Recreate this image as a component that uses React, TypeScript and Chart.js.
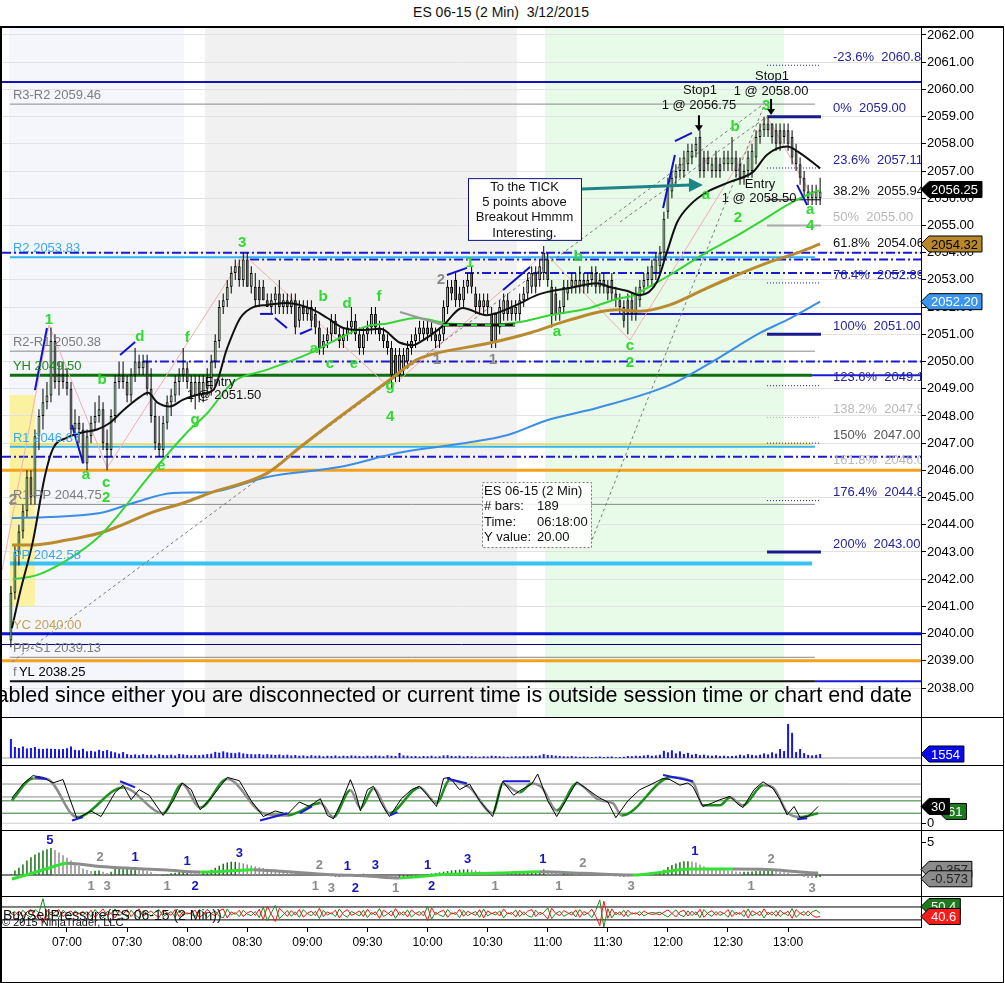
import React, { useEffect, useRef } from "react";
import { Chart, registerables } from "chart.js";

Chart.register(...registerables);

const FONT = "'Liberation Sans', Arial, Helvetica, sans-serif";
Chart.defaults.font.family = FONT;

// ================= DATA =================
const TITLE = "ES 06-15 (2 Min)  3/12/2015";
const BANNER = "abled since either you are disconnected or current time is outside session time or chart end date";

// time axis (minutes after midnight)
const FIRST_BAR_MINUTE = 392; // 06:32
const BAR_MINUTES = 2;
const X_MIN = 387.55;
const X_MAX = 846.36;
const timeTicks = [420, 450, 480, 510, 540, 570, 600, 630, 660, 690, 720, 750, 780];

// price axis
const Y_MIN = 2036.936;
const Y_MAX = 2062.294;
const priceTicks = [2038, 2039, 2040, 2041, 2042, 2043, 2044, 2045, 2046, 2047, 2048, 2049, 2050, 2051, 2052, 2053, 2054, 2055, 2056, 2057, 2058, 2059, 2060, 2061, 2062];

const opens = [
  2039.75, 2041.5, 2043.0, 2043.75, 2044.5, 2045.75, 2045.0, 2047.25, 2048.0, 2048.5,
  2048.75, 2050.75, 2049.25, 2049.5, 2049.25, 2049.0, 2047.5, 2047.75, 2047.5, 2046.25,
  2047.25, 2047.75, 2048.0, 2048.25, 2047.0, 2046.75, 2048.0, 2049.25, 2049.5, 2049.25,
  2048.75, 2049.5, 2050.0, 2049.75, 2050.0, 2049.0, 2048.0, 2047.0, 2046.75, 2047.75,
  2048.5, 2048.75, 2049.25, 2049.5, 2049.75, 2049.25, 2048.75, 2049.25, 2048.75, 2049.25,
  2049.0, 2050.0, 2050.75, 2052.0, 2052.25, 2052.75, 2053.25, 2053.5, 2053.0, 2053.75,
  2052.75, 2052.75, 2052.75, 2052.75, 2052.25, 2052.0, 2052.25, 2052.5, 2052.0, 2052.25,
  2052.0, 2052.25, 2051.5, 2052.0, 2051.75, 2052.0, 2051.75, 2051.25, 2050.5, 2050.75,
  2051.0, 2051.5, 2051.0, 2050.75, 2051.0, 2051.25, 2051.5, 2051.0, 2050.5, 2051.0,
  2051.25, 2051.75, 2051.25, 2051.0, 2050.75, 2050.5, 2050.25, 2049.5, 2049.75, 2050.0,
  2050.5, 2050.75, 2051.0, 2051.0, 2051.25, 2051.25, 2051.0, 2050.75, 2051.0, 2052.0,
  2052.75, 2053.0, 2052.5, 2052.25, 2052.75, 2053.25, 2052.5, 2052.25, 2052.0, 2052.25,
  2051.75, 2050.75, 2051.25, 2051.75, 2052.25, 2052.0, 2051.75, 2051.75, 2052.25, 2052.5,
  2052.75, 2053.25, 2053.0, 2053.25, 2053.75, 2052.75, 2052.5, 2051.75, 2052.0, 2052.5,
  2052.75, 2052.75, 2052.75, 2053.0, 2052.75, 2053.0, 2053.25, 2052.75, 2053.0, 2052.75,
  2053.0, 2052.5, 2052.25, 2052.0, 2052.25, 2052.25, 2051.75, 2052.25, 2052.75, 2053.0,
  2053.0, 2053.25, 2053.5, 2054.0, 2055.5, 2056.25, 2056.75, 2057.0, 2057.0, 2057.25,
  2057.5, 2057.75, 2058.25, 2057.5, 2057.5, 2057.0, 2057.5, 2057.25, 2057.25, 2057.25,
  2057.25, 2057.5, 2057.25, 2056.75, 2057.0, 2057.0, 2057.5, 2058.25, 2058.5, 2058.75,
  2058.75, 2058.5, 2058.5, 2058.5, 2058.5, 2058.25, 2057.75, 2057.25, 2056.75, 2056.0,
  2056.0, 2056.0, 2056.0,
];
const highs = [
  2041.75, 2043.25, 2044.0, 2044.75, 2046.0, 2046.0, 2047.5, 2048.25, 2049.0, 2049.25,
  2051.25, 2051.0, 2050.0, 2050.0, 2049.75, 2049.25, 2048.25, 2048.0, 2047.75, 2047.5,
  2048.0, 2048.5, 2048.75, 2048.5, 2047.5, 2048.25, 2049.5, 2050.0, 2050.0, 2049.5,
  2049.75, 2050.5, 2050.25, 2050.25, 2050.25, 2049.75, 2048.5, 2048.0, 2048.0, 2048.75,
  2049.0, 2049.5, 2049.75, 2050.5, 2050.0, 2049.5, 2049.5, 2049.5, 2049.5, 2049.75,
  2050.25, 2051.0, 2052.25, 2052.5, 2053.0, 2053.5, 2053.75, 2053.75, 2054.0, 2054.0,
  2053.5, 2053.25, 2053.0, 2053.0, 2052.5, 2052.5, 2052.75, 2053.0, 2052.5, 2052.5,
  2052.5, 2052.5, 2052.25, 2052.25, 2052.25, 2052.25, 2052.0, 2051.5, 2051.0, 2051.25,
  2051.75, 2051.75, 2051.25, 2051.25, 2051.5, 2052.0, 2051.75, 2051.25, 2051.25, 2051.5,
  2052.0, 2052.0, 2051.5, 2051.25, 2051.0, 2050.75, 2050.5, 2050.5, 2050.5, 2050.75,
  2051.0, 2051.25, 2051.5, 2051.5, 2051.5, 2051.5, 2051.25, 2051.25, 2052.25, 2053.0,
  2053.0, 2053.25, 2052.75, 2053.0, 2053.25, 2053.5, 2052.75, 2052.5, 2052.5, 2052.5,
  2052.0, 2051.75, 2052.25, 2052.5, 2052.5, 2052.25, 2052.25, 2052.5, 2052.75, 2053.25,
  2053.5, 2053.5, 2053.75, 2054.25, 2054.0, 2053.0, 2052.75, 2052.25, 2053.0, 2053.0,
  2053.25, 2053.25, 2053.5, 2053.25, 2053.25, 2053.5, 2053.5, 2053.25, 2053.25, 2053.0,
  2053.25, 2052.75, 2052.5, 2052.25, 2052.5, 2052.5, 2052.75, 2053.0, 2053.25, 2053.5,
  2053.75, 2054.0, 2054.25, 2055.5, 2056.75, 2057.0, 2057.25, 2057.5, 2057.75, 2058.0,
  2058.0, 2058.25, 2058.5, 2057.75, 2057.75, 2057.5, 2057.75, 2057.5, 2057.75, 2057.75,
  2058.25, 2057.75, 2057.5, 2057.25, 2057.75, 2058.0, 2058.5, 2058.75, 2059.0, 2059.0,
  2058.75, 2058.75, 2058.75, 2058.75, 2058.75, 2058.5, 2058.0, 2057.5, 2057.0, 2056.5,
  2056.5, 2056.5, 2056.75,
];
const lows = [
  2039.5, 2041.25, 2042.5, 2043.5, 2044.25, 2044.75, 2044.75, 2046.75, 2047.5, 2048.25,
  2048.5, 2049.0, 2048.75, 2049.0, 2048.75, 2047.25, 2047.25, 2047.0, 2046.25, 2046.0,
  2047.0, 2047.5, 2047.75, 2046.75, 2046.0, 2046.5, 2047.75, 2049.0, 2049.0, 2048.5,
  2048.5, 2049.25, 2049.5, 2049.5, 2048.75, 2047.75, 2046.75, 2046.5, 2046.5, 2047.5,
  2048.0, 2048.5, 2048.75, 2049.25, 2049.0, 2048.5, 2048.25, 2048.5, 2048.5, 2048.75,
  2048.75, 2049.75, 2050.5, 2051.75, 2052.0, 2052.5, 2053.0, 2052.75, 2052.75, 2052.75,
  2052.5, 2052.0, 2052.0, 2052.25, 2052.0, 2051.75, 2051.75, 2051.75, 2051.75, 2051.75,
  2051.75, 2051.0, 2051.25, 2051.5, 2051.5, 2051.25, 2051.0, 2050.25, 2050.25, 2050.5,
  2050.75, 2051.0, 2050.5, 2050.5, 2050.75, 2051.0, 2050.75, 2050.25, 2050.25, 2050.75,
  2051.0, 2051.0, 2050.75, 2050.5, 2050.25, 2049.0, 2049.25, 2049.25, 2049.5, 2049.75,
  2050.25, 2050.5, 2050.75, 2050.75, 2050.75, 2050.75, 2050.5, 2050.5, 2050.75, 2051.75,
  2052.25, 2052.0, 2052.0, 2052.0, 2052.5, 2052.5, 2051.75, 2051.75, 2051.75, 2051.75,
  2050.5, 2050.5, 2051.0, 2051.5, 2051.5, 2051.5, 2051.5, 2051.5, 2052.0, 2052.25,
  2052.5, 2052.5, 2052.75, 2053.0, 2052.75, 2051.25, 2051.5, 2051.5, 2051.75, 2052.25,
  2052.5, 2052.5, 2052.5, 2052.5, 2052.5, 2052.75, 2052.5, 2052.5, 2052.5, 2052.25,
  2052.25, 2052.0, 2051.75, 2051.25, 2051.0, 2051.5, 2051.5, 2052.0, 2052.5, 2052.75,
  2052.75, 2053.0, 2053.25, 2053.75, 2055.25, 2056.0, 2056.5, 2056.75, 2056.75, 2057.0,
  2057.25, 2057.5, 2056.75, 2056.75, 2057.0, 2056.75, 2056.75, 2056.75, 2057.0, 2057.0,
  2057.0, 2056.75, 2056.5, 2056.5, 2056.75, 2056.75, 2057.25, 2058.0, 2058.25, 2058.25,
  2058.0, 2057.75, 2057.75, 2058.0, 2057.75, 2057.25, 2057.0, 2056.5, 2056.0, 2055.75,
  2055.75, 2055.75, 2055.75,
];
const closes = [
  2041.5, 2043.0, 2043.75, 2044.5, 2045.75, 2045.0, 2047.25, 2048.0, 2048.5, 2048.75,
  2050.75, 2049.25, 2049.5, 2049.25, 2049.0, 2047.5, 2047.75, 2047.5, 2046.25, 2047.25,
  2047.75, 2048.0, 2048.25, 2047.0, 2046.75, 2048.0, 2049.25, 2049.5, 2049.25, 2048.75,
  2049.5, 2050.0, 2049.75, 2050.0, 2049.0, 2048.0, 2047.0, 2046.75, 2047.75, 2048.5,
  2048.75, 2049.25, 2049.5, 2049.75, 2049.25, 2048.75, 2049.25, 2048.75, 2049.25, 2049.0,
  2050.0, 2050.75, 2052.0, 2052.25, 2052.75, 2053.25, 2053.5, 2053.0, 2053.75, 2052.75,
  2053.25, 2052.25, 2052.25, 2052.25, 2052.0, 2052.25, 2052.5, 2052.0, 2052.25, 2052.0,
  2052.25, 2051.25, 2052.0, 2051.75, 2052.0, 2051.5, 2051.25, 2050.5, 2050.75, 2051.0,
  2051.5, 2051.0, 2050.75, 2051.0, 2051.25, 2051.5, 2051.0, 2050.5, 2051.0, 2051.25,
  2051.75, 2051.25, 2051.0, 2050.75, 2050.5, 2049.5, 2049.5, 2050.25, 2050.25, 2050.5,
  2050.75, 2051.0, 2051.25, 2051.25, 2051.0, 2051.0, 2050.75, 2051.0, 2052.0, 2052.75,
  2052.5, 2052.25, 2052.25, 2052.75, 2053.0, 2052.75, 2052.0, 2052.0, 2052.25, 2052.0,
  2050.75, 2051.75, 2052.0, 2052.25, 2051.75, 2051.75, 2052.0, 2052.25, 2052.5, 2053.0,
  2053.25, 2052.75, 2053.5, 2054.0, 2053.0, 2051.75, 2051.75, 2052.0, 2052.75, 2052.75,
  2053.0, 2053.0, 2053.0, 2052.75, 2053.0, 2053.25, 2052.75, 2053.0, 2052.75, 2052.5,
  2052.5, 2052.25, 2052.0, 2051.5, 2051.75, 2051.75, 2052.5, 2052.75, 2053.0, 2053.25,
  2053.5, 2053.75, 2054.0, 2055.25, 2056.5, 2056.75, 2057.0, 2057.25, 2057.5, 2057.75,
  2057.75, 2058.0, 2057.0, 2057.0, 2057.25, 2057.25, 2057.0, 2057.0, 2057.5, 2057.5,
  2057.5, 2057.0, 2056.75, 2057.0, 2057.5, 2057.75, 2058.25, 2058.5, 2058.75, 2058.5,
  2058.25, 2058.0, 2058.0, 2058.25, 2058.0, 2057.5, 2057.25, 2056.75, 2056.25, 2056.25,
  2056.25, 2056.25, 2056.25,
];
const volumes = [
  7400, 4300, 3900, 4500, 3700, 3900, 4300, 3600, 3500, 3700,
  3600, 3500, 3400, 3500, 3800, 4500, 3200, 3000, 3600, 2600,
  2800, 2500, 3200, 2700, 3100, 2600, 2200, 1700, 2300, 1500,
  1200, 1400, 1100, 1500, 1200, 1300, 1000, 1500, 1200, 1100,
  1300, 1000, 1600, 1400, 1200, 1000, 1200, 1100, 1300, 1500,
  1700, 2400, 2100, 2600, 2200, 2000, 1900, 2200, 1800, 1600,
  1500, 1400, 1600, 1300, 1500, 1300, 1200, 1400, 1100, 1300,
  1000, 1200, 900, 1000, 800, 1100, 900, 1000, 700, 900,
  800, 1000, 700, 900, 800, 1000, 900, 800, 700, 900,
  800, 1000, 900, 700, 1100, 900, 800, 2000, 1000, 900,
  700, 800, 600, 800, 700, 900, 600, 700, 1000, 1100,
  800, 700, 900, 600, 800, 700, 600, 500, 700, 600,
  900, 800, 700, 600, 500, 600, 700, 600, 800, 700,
  900, 800, 1000, 1500, 1200, 1100, 900, 800, 700, 600,
  800, 600, 500, 600, 500, 400, 500, 600, 400, 500,
  600, 300, 400, 500, 800, 700, 900, 800, 1000, 1200,
  900, 1000, 1300, 2800, 2200, 3000, 1800, 2600, 1600, 2000,
  1300, 1600, 1100, 1300, 1000, 900, 1100, 800, 900, 700,
  800, 900, 1300, 1000, 1500, 1200, 1000, 1300, 1800, 1400,
  2200, 1700, 3500, 2700, 13300, 9800, 2300, 3500, 1900, 1200,
  1000, 1200, 1554,
];
const macdHist = [
  0.1, 0.7, 1.1, 1.6, 2.2, 2.7, 3.1, 3.4, 3.7, 3.9,
  4.1, 3.8, 3.4, 3.0, 2.6, 2.2, 1.8, 1.4, 1.0, 0.75,
  0.6, 0.65, 0.7, 0.5, 0.3, 0.5, 0.9, 1.0, 1.0, 1.0,
  1.15, 1.2, 1.0, 0.8, 0.6, 0.4, 0.2, -0.15, -0.1, 0.1,
  0.25, 0.35, 0.5, 0.6, 0.6, 0.5, 0.4, 0.3, 0.35, 0.5,
  0.8, 1.1, 1.4, 1.7, 1.9, 2.0, 2.0, 1.9, 1.75, 1.6,
  1.45, 1.3, 1.15, 1.05, 0.95, 0.9, 0.85, 0.75, 0.7, 0.6,
  0.5, 0.4, 0.35, 0.3, 0.25, 0.2, 0.15, 0.1, 0.05, -0.05,
  -0.2, -0.3, -0.3, -0.2, -0.1, 0.05, 0.1, 0.15, 0.2, 0.1,
  0.05, 0.0, -0.1, -0.2, -0.3, -0.4, -0.5, -0.5, -0.45, -0.35,
  -0.25, -0.15, -0.05, 0.05, 0.15, 0.25, 0.3, 0.4, 0.5, 0.6,
  0.7, 0.75, 0.8, 0.85, 0.85, 0.8, 0.7, 0.55, 0.4, 0.25,
  0.05, -0.1, 0.0, 0.1, 0.15, 0.2, 0.25, 0.3, 0.35, 0.4,
  0.45, 0.5, 0.55, 0.85, 0.7, 0.45, 0.3, 0.25, 0.25, 0.3,
  0.3, 0.25, 0.25, 0.2, 0.15, 0.1, 0.05, 0.0, -0.05, -0.1,
  -0.15, -0.2, -0.25, -0.25, -0.2, -0.1, 0.0, 0.1, 0.15, 0.25,
  0.35, 0.45, 0.55, 0.8, 1.2, 1.5, 1.75, 1.95, 2.1, 2.1,
  2.05, 1.9, 1.6, 1.3, 1.1, 1.0, 0.9, 0.85, 0.8, 0.7,
  0.65, 0.55, 0.5, 0.5, 0.5, 0.55, 0.6, 0.65, 0.7, 0.75,
  0.75, 0.65, 0.5, 0.4, 0.35, 0.2, 0.05, -0.15, -0.3, -0.45,
  -0.5, -0.4, -0.3,
];
const sellPressure = [
  50, 44, 58, 40, 55, 62, 38, 48, 20, 60,
  45, 55, 62, 40, 52, 58, 42, 50, 56, 44,
  60, 38, 52, 64, 44, 50, 36, 58, 48, 62,
  40, 55, 64, 42, 50, 58, 45, 38, 60, 52,
  44, 62, 40, 56, 48, 52, 60, 38, 46, 63,
  50, 42, 58, 64, 36, 55, 47, 60, 40, 52,
  57, 44, 63, 30, 72, 48, 25, 66, 54, 41,
  59, 45, 62, 38, 51, 57, 43, 66, 40, 55,
  48, 60, 36, 54, 62, 44, 50, 58, 40, 63,
  47, 55, 35, 60, 52, 42, 65, 45, 56, 39,
  61, 50, 44, 58, 28, 68, 46, 55, 60, 38,
  52, 47, 63, 41, 57, 50, 44, 62, 36, 58,
  49, 55, 42, 64, 48, 53, 39, 60, 45, 57,
  62, 40, 54, 47, 33, 66, 50, 43, 59, 52,
  45, 61, 38, 56, 49, 63, 41, 12, 88, 35,
  64, 46, 55, 40, 60, 48, 52, 44, 58, 50,
  47, 49, 46, 54, 61, 50, 39, 55, 60, 42,
  57, 45, 63, 38, 52, 59, 44, 56, 49, 62,
  40, 54, 47, 60, 36, 58, 51, 43, 64, 46,
  55, 41, 60, 48, 57, 35, 62, 50, 44, 58,
  45, 38, 40.6,
];
const buyPressure = [
  50, 56, 42, 60, 45, 38, 62, 52, 96, 40,
  55, 45, 38, 60, 48, 42, 58, 50, 44, 56,
  40, 62, 48, 36, 56, 50, 64, 42, 52, 38,
  60, 45, 36, 58, 50, 42, 55, 62, 40, 48,
  56, 38, 60, 44, 52, 48, 40, 62, 54, 37,
  50, 58, 42, 36, 64, 45, 53, 40, 60, 48,
  43, 56, 37, 70, 28, 52, 75, 34, 46, 59,
  41, 55, 38, 62, 49, 43, 57, 34, 60, 45,
  52, 40, 64, 46, 38, 56, 50, 42, 60, 37,
  53, 45, 65, 40, 48, 58, 35, 55, 44, 61,
  39, 50, 56, 42, 72, 32, 54, 45, 40, 62,
  48, 53, 37, 59, 43, 50, 56, 38, 64, 42,
  51, 45, 58, 36, 52, 47, 61, 40, 55, 43,
  38, 60, 46, 53, 67, 34, 50, 57, 41, 48,
  55, 39, 62, 44, 51, 37, 59, 92, 8, 65,
  36, 54, 45, 60, 40, 52, 48, 56, 42, 50,
  53, 51, 54, 46, 39, 50, 61, 45, 40, 58,
  43, 55, 37, 62, 48, 41, 56, 44, 51, 38,
  60, 46, 53, 40, 64, 42, 49, 57, 36, 54,
  45, 59, 40, 52, 43, 65, 38, 50, 56, 42,
  55, 60, 50.4,
];

// moving averages [minute, price]
const maFast = [
  [392.5, 2040.2], [396.5, 2041.5], [403, 2043.4], [409, 2045.8], [413, 2046.8], [420, 2047.2], [428, 2047.4],
  [435, 2047.5], [441.5, 2047.75], [448, 2048.2], [456.5, 2048.7], [460.5, 2048.85], [465, 2048.5], [471.5, 2048.35],
  [478, 2048.6], [486.5, 2048.8], [493, 2048.95], [500, 2050.5], [506.5, 2051.6], [513, 2052.0], [520, 2052.08],
  [530, 2052.15], [543, 2051.9], [550, 2051.6], [558, 2051.23], [566.5, 2051.16], [576.5, 2051.2], [586, 2050.7],
  [593, 2050.6], [596, 2050.7], [607.5, 2051.3], [617.5, 2051.97], [629.5, 2051.7], [634.5, 2051.78], [644.5, 2052.08],
  [654.5, 2052.44], [659.5, 2052.55], [671, 2052.7], [684.5, 2052.88], [691, 2052.74], [699.5, 2052.6], [706, 2052.44],
  [714.5, 2052.92], [719.5, 2054.02], [724.5, 2055.1], [731, 2055.75], [739.5, 2056.23], [751, 2056.6], [762.5, 2056.97],
  [769.5, 2057.6], [779.5, 2057.9], [786, 2057.66], [796, 2057.1],
];
const maMid = [
  [393, 2042.0], [405, 2042.15], [420, 2042.7], [436.5, 2043.6], [445, 2044.3], [460, 2045.7], [480, 2047.4],
  [490, 2048.1], [503, 2049.25], [520, 2049.7], [541, 2050.3], [556, 2050.86], [570, 2051.3], [580, 2051.4],
  [594.5, 2051.6], [610, 2051.4], [631, 2051.35], [646, 2051.45], [661, 2051.7], [681, 2051.97], [694.5, 2052.3],
  [703.5, 2052.44], [706, 2052.55], [721, 2053.18], [739.5, 2054.02], [752.5, 2054.54], [766, 2055.13],
  [779.5, 2055.75], [789.5, 2056.12], [796, 2056.3],
];
const maSlow = [
  [392.5, 2043.26], [403, 2043.26], [420, 2043.44], [436.5, 2043.7], [445, 2043.92], [461.5, 2044.43], [478, 2044.8],
  [491.5, 2045.17], [520, 2045.9], [536.5, 2046.86], [556, 2047.96], [581, 2049.32], [594.5, 2050.06], [601, 2050.24],
  [631, 2050.68], [651, 2051.05], [671, 2051.53], [694.5, 2051.9], [706, 2051.85], [721, 2052.08], [739.5, 2052.7],
  [754.5, 2053.18], [771, 2053.66], [786, 2054.03], [796, 2054.32],
];
const maLong = [
  [392.5, 2044.25], [411, 2044.29], [436.5, 2044.43], [453, 2044.8], [473, 2045.17], [491.5, 2045.2], [520, 2045.76],
  [556, 2046.12], [585, 2046.64], [618, 2047.0], [640, 2047.3], [660, 2047.85], [685, 2048.3], [721, 2049.14],
  [741, 2049.94], [766, 2051.05], [779.5, 2051.53], [796, 2052.2],
];
const maGraySeg = [[586.3, 2051.82], [607.7, 2051.34]];
const maFlatSeg = [[607.7, 2051.34], [643.7, 2051.34]];

// pivot levels
const pivotNames = ["R3-R2", "R2", "R2-R1", "YH", "R1", "R1-PP", "PP", "YC", "PP-S1", "YL"];
const pivotValues = [2059.46, 2053.83, 2050.38, 2049.5, 2046.87, 2044.75, 2042.58, 2040.0, 2039.13, 2038.25];

// other horizontal lines: price, from minute, to minute
const lineNavyTop = [2060.27, X_MIN, X_MAX];
const dashDotLevels = [[2054.0, X_MIN, X_MAX], [2053.75, 511.4, X_MAX], [2053.25, 618.7, X_MAX], [2050.0, 457.9, X_MAX], [2046.5, X_MIN, X_MAX]];
const blueSolidLevels = [[2051.75, 691, X_MAX], [2049.5, 792, X_MAX], [2038.25, 793.4, X_MAX]];
const orangeLevels = [[2046.0, X_MIN, X_MAX], [2039.0, X_MIN, X_MAX]];
const thinNavyLevel = [2039.6, X_MIN, X_MAX];
const yellowLevel = [2046.97, 391.5, 792];

// Fibonacci retracement
const FIB_HIGH = 2059.0;
const FIB_LOW = 2051.0;
const fibPercents = [-23.6, 0, 23.6, 38.2, 50, 61.8, 76.4, 100, 123.6, 138.2, 150, 161.8, 176.4, 200];

// session shading [from, to]
const sessionFrom = [391, 488.9, 658.6];
const sessionTo = [478.4, 644.7, 778];
const openingRange = { t0: 391.5, t1: 404, p0: 2040.98, p1: 2048.77 };

// Elliott-wave style labels [minute, price, text]
const waveLabels = [
  [411, 2051.53, "1"], [507.4, 2054.36, "3"], [437.5, 2049.32, "b"], [456.4, 2050.9, "d"], [480, 2050.86, "f"],
  [429.5, 2045.83, "a"], [439.5, 2045.54, "c"], [439.5, 2044.98, "2"], [467, 2046.16, "e"], [484, 2047.85, "g"],
  [547.8, 2052.37, "b"], [559.8, 2052.11, "d"], [575.8, 2052.37, "f"], [543.3, 2050.46, "a"], [551.3, 2049.91, "c"],
  [563.3, 2049.91, "e"], [581.3, 2049.1, "g"], [581.3, 2047.96, "4"], [621.2, 2053.62, "1"], [658.6, 2054.58, "i"],
  [675.1, 2053.84, "b"], [664.6, 2051.08, "a"], [701.1, 2050.57, "c"], [701.1, 2049.94, "2"], [739, 2056.12, "a"],
  [753.5, 2058.62, "b"], [769, 2059.39, "3"], [755, 2055.27, "2"], [791, 2055.57, "a"], [791, 2054.98, "4"],
];
const grayLabels = [[606.7, 2053.0, "2"], [632.7, 2050.06, "1"], [604.7, 2050.06, "1"], [393, 2044.91, "2"]];
const orderTexts = [
  [736, 2059.98, "Stop1"], [735.5, 2059.43, "1 @ 2056.75"], [772, 2060.49, "Stop1"], [771.5, 2059.94, "1 @ 2058.00"],
  [766, 2056.52, "Entry"], [765.5, 2056.01, "1 @ 2058.50"], [496.4, 2049.25, "Entry"], [498.4, 2048.77, "1 @ 2051.50"],
];
const stopArrows = [[735.5, 2059.05, 2058.5], [771.5, 2059.65, 2059.1]];
const noteLines = ["To the TICK", "5 points above", "Breakout Hmmm", "Interesting."];
const noteBox = { t0: 620.2, t1: 676.6, p0: 2054.47, p1: 2056.74 };
const noteArrow = [[677.1, 2056.34], [737.5, 2056.49]];
const infoLabels = ["ES 06-15 (2 Min)", "# bars:", "Time:", "Y value:"];
const infoValues = ["", "189", "06:18:00", "20.00"];
const infoBox = { t0: 627.2, t1: 681.6, p0: 2043.18, p1: 2045.57 };
const diagonals = [
  [[392.5, 2038.96], [768.5, 2059.5]],
  [[681.1, 2043.26], [768.5, 2059.5]],
  [[696.1, 2055.13], [769.5, 2059.0]],
];
const wavePath = [[387.6, 2042.34], [411, 2051.34], [440, 2046.09], [508.4, 2053.92], [581.3, 2049.03], [658.6, 2053.99], [701.1, 2050.79], [769.5, 2059.0], [792, 2056.08]];
const trendMarks = [
  [[404, 2048.95], [410, 2051.23]], [[422.5, 2047.67], [428, 2046.27]], [[446.5, 2050.24], [454, 2050.72]],
  [[516.4, 2051.75], [522.8, 2051.75]], [[523.8, 2051.6], [529.8, 2051.23]], [[536.3, 2051.01], [542.3, 2051.2]],
  [[609.7, 2053.18], [619.7, 2053.44]], [[637.7, 2052.63], [651.2, 2053.47]], [[717.6, 2055.64], [723.5, 2057.59]],
  [[723.5, 2058.1], [732, 2058.4]], [[784.5, 2056.49], [789.5, 2055.75]],
];

// stochastics [minute, value]
const stochD = [
  [392.5, 41], [403, 80], [410, 79], [425, 11], [448, 64], [468, 18], [477.5, 70], [486.5, 28], [500, 79], [518, 18],
  [530, 14], [546.5, 36], [553, 11], [561.5, 59], [566.5, 27], [573, 62], [581, 18], [596, 64], [604.5, 36], [611, 77],
  [621, 64], [632.5, 18], [637.5, 70], [646, 55], [652, 71], [657, 64], [664.5, 23], [674.5, 71], [686, 41], [692.5, 36],
  [697, 14], [717.5, 77], [721, 82], [732.5, 73], [737.5, 32], [746, 32], [751, 46], [757.5, 32], [767.5, 68], [772.5, 64],
  [779.5, 20], [786, 11], [795, 18],
];
const stochK = [
  [392.5, 45], [398, 70], [403, 85], [408, 82], [413, 72], [418, 78], [425, 8], [432, 22], [437, 12], [444, 55], [448, 68],
  [452, 42], [456, 60], [461, 50], [468, 14], [473, 40], [477.5, 72], [482, 60], [486.5, 24], [492, 45], [500, 82], [506, 76],
  [512, 40], [518, 12], [524, 22], [530, 16], [536, 38], [541, 30], [546.5, 44], [550, 14], [553, 8], [557, 38], [561.5, 78],
  [564, 55], [566.5, 22], [570, 60], [573, 66], [577, 35], [581, 12], [587, 44], [592, 60], [596, 66], [600, 50], [604.5, 30],
  [608, 80], [611, 82], [616, 60], [621, 70], [626, 40], [632.5, 12], [637.5, 75], [643, 50], [646, 58], [652, 70], [655, 88],
  [660, 40], [664.5, 12], [669, 40], [674.5, 74], [680, 60], [686, 45], [690, 38], [694, 10], [700, 40], [706, 60], [712, 70],
  [717.5, 80], [721, 78], [726, 68], [730, 72], [732.5, 65], [737.5, 30], [742, 36], [746, 42], [751, 48], [755, 34],
  [757.5, 28], [763, 60], [767.5, 74], [772.5, 62], [776, 42], [779.5, 15], [783, 30], [786, 10], [790, 12], [795, 30],
];
const stochLevels = [70, 47, 40, 18, 0];
const stochMarks = [
  [[404, 82], [410, 79]], [[422.5, 5], [428, 11]], [[446.5, 75], [454, 64]], [[516.4, 5], [530, 18]], [[536.3, 18], [542.3, 30]],
  [[581.3, 14], [585, 20]], [[609.7, 80], [619.7, 71]], [[637.7, 75], [651.2, 75]], [[717.6, 86], [732.5, 75]], [[784.5, 7], [789.5, 9]],
];
const stochTagValues = [30, 61];

// MACD-style line [minute, value]
const macdLine = [
  [392.5, -0.6], [403, 0.3], [411.5, 1.1], [420, 1.8], [436.5, 1.3], [453, 1.0], [470, 0.75], [486.5, 0.45], [500, 0.6],
  [513, 0.8], [520, 0.7], [553, 0.05], [570, -0.15], [586, -0.45], [593, -0.3], [610, 0.1], [636, 0.3], [656, 0.5],
  [678, 0.25], [702.5, 0.0], [716, 0.4], [731, 0.9], [752.5, 0.9], [769.5, 0.85], [777.5, 0.7], [791, 0.35], [795, 0.3],
];
const macdTags = [-0.357, -0.573];
const macdCountsBlue = [
  [411.5, 5.2, "5"], [454, 2.6, "1"], [480, 2.0, "1"], [484, -1.7, "2"], [506, 3.2, "3"], [560, 1.35, "1"], [574, 1.45, "3"],
  [564, -2.0, "2"], [600, 1.45, "1"], [620, 2.3, "3"], [602, -1.7, "2"], [657.6, 2.3, "1"], [733.5, 3.5, "1"],
];
const macdCountsGray = [
  [436.5, 2.6, "2"], [432, -1.7, "1"], [440, -1.7, "3"], [470, -1.7, "1"], [546, 1.5, "2"], [544, -1.7, "1"], [552, -2.0, "3"],
  [584, -2.1, "1"], [633.7, -1.8, "1"], [677.6, 1.7, "2"], [665.6, -1.7, "1"], [701.6, -1.8, "3"], [771.5, 2.3, "2"],
  [761.5, -1.7, "1"], [792, -2.1, "3"],
];

// ================= HELPERS =================
const AXIS_W = 84;
const barTimes = opens.map((_, i) => FIRST_BAR_MINUTE + BAR_MINUTES * i);
const toXY = (pairs: number[][]) => pairs.map(([x, y]) => ({ x, y }));
const fmtTime = (m: number) => `${String(Math.floor(m / 60)).padStart(2, "0")}:${String(Math.round(m % 60)).padStart(2, "0")}`;

function lineDs(points: number[][], color: string, width: number, dash: number[] = [], order = 3, extra: any = {}) {
  return {
    type: "line",
    data: toXY(points),
    borderColor: color,
    borderWidth: width,
    borderDash: dash,
    pointRadius: 0,
    tension: 0,
    fill: false,
    order,
    ...extra,
  };
}
function hLine(price: number, t0: number, t1: number, color: string, width: number, dash: number[] = [], order = 30) {
  return lineDs([[t0, price], [t1, price]], color, width, dash, order);
}
const smooth = { cubicInterpolationMode: "monotone" };

function rightAxis(min: number, max: number, extra: any = {}) {
  return {
    position: "right",
    min,
    max,
    afterFit: (s: any) => {
      s.width = AXIS_W;
      s.paddingTop = 0;
      s.paddingBottom = 0;
    },
    ticks: { display: false },
    grid: { display: false },
    border: { display: true, color: "#000", width: 1 },
    ...extra,
  };
}
const xHidden = { type: "linear", min: X_MIN, max: X_MAX, display: false, offset: false };

const baseOptions = {
  responsive: false,
  animation: false,
  devicePixelRatio: 1,
  events: [],
  layout: { padding: { left: 2, right: 0, top: 0, bottom: 0 } },
  plugins: { legend: { display: false }, tooltip: { enabled: false } },
};

function drawTag(ctx: any, x: number, y: number, text: string, bg: string, fg: string) {
  ctx.save();
  ctx.font = `13px ${FONT}`;
  const w = ctx.measureText(text).width;
  const h = 16;
  ctx.beginPath();
  ctx.moveTo(x, y);
  ctx.lineTo(x + 8, y - h / 2);
  ctx.lineTo(x + 14 + w, y - h / 2);
  ctx.lineTo(x + 14 + w, y + h / 2);
  ctx.lineTo(x + 8, y + h / 2);
  ctx.closePath();
  ctx.fillStyle = bg;
  ctx.fill();
  ctx.strokeStyle = "#000";
  ctx.lineWidth = 1;
  ctx.stroke();
  ctx.fillStyle = fg;
  ctx.textAlign = "left";
  ctx.textBaseline = "middle";
  ctx.fillText(text, x + 10, y + 1);
  ctx.restore();
}
function text(ctx: any, s: string, x: number, y: number, font: string, color: string, align = "left") {
  ctx.font = font;
  ctx.fillStyle = color;
  ctx.textAlign = align;
  ctx.textBaseline = "middle";
  ctx.fillText(s, x, y);
}

// ================= MAIN PRICE PANEL =================
const pivotColors = ["#7d7d7d", "#3aa9ec", "#7d7d7d", "#1d8a1d", "#3aa9ec", "#7d7d7d", "#3aa9ec", "#c6a250", "#7d7d7d", "#000000"];
const fibLineColor = (p: number) => (p === 38.2 ? "#000" : p === 50 ? "#a8a8a8" : p === 138.2 || p === 161.8 ? "#b0b0b0" : "#1a1a8c");
const fibLabelColor = (p: number) =>
  p === 38.2 || p === 61.8 ? "#111" : p === 50 || p === 138.2 || p === 161.8 ? "#b8b8b8" : p === 150 ? "#555" : "#24249c";

const mainPlugin = {
  id: "mainDecor",
  beforeDraw(chart: any) {
    const { ctx, chartArea: a, scales } = chart;
    const X = (t: number) => scales.x.getPixelForValue(t);
    const Y = (p: number) => scales.y.getPixelForValue(p);
    const colors = ["#f4f6fb", "#f1f1f1", "#e8fae8"];
    ctx.save();
    ctx.fillStyle = "#fff";
    ctx.fillRect(a.left, a.top, a.right - a.left, a.bottom - a.top);
    sessionFrom.forEach((t0, i) => {
      ctx.fillStyle = colors[i];
      ctx.fillRect(X(t0), a.top, X(sessionTo[i]) - X(t0), a.bottom - a.top);
    });
    ctx.fillStyle = "#faf2a0";
    ctx.fillRect(X(openingRange.t0), Y(openingRange.p1), X(openingRange.t1) - X(openingRange.t0), Y(openingRange.p0) - Y(openingRange.p1));
    ctx.restore();
  },
  afterDatasetsDraw(chart: any) {
    const { ctx, chartArea: a, scales } = chart;
    const X = (t: number) => scales.x.getPixelForValue(t);
    const Y = (p: number) => scales.y.getPixelForValue(p);
    ctx.save();
    ctx.beginPath();
    ctx.rect(a.left, a.top, a.right - a.left, a.bottom - a.top);
    ctx.clip();

    // pivot labels
    pivotNames.forEach((n, i) => {
      text(ctx, `${n} ${pivotValues[i].toFixed(2)}`, X(393) + (n === "YL" ? 6 : 0), Y(pivotValues[i]) - 8.5, `13px ${FONT}`, pivotColors[i]);
    });
    text(ctx, "f", X(393), Y(2038.25) - 8.5, `13px ${FONT}`, "#7d7d7d");

    // fib labels
    fibPercents.forEach((p) => {
      const price = FIB_HIGH - (p / 100) * (FIB_HIGH - FIB_LOW);
      text(ctx, `${p}%  ${price.toFixed(2)}`, X(802.4), Y(price) - 8, `13px ${FONT}`, fibLabelColor(p));
    });

    // wave labels
    waveLabels.forEach(([t, p, s]: any) => text(ctx, s, X(t), Y(p), `bold 15px ${FONT}`, "#2edb2e", "center"));
    grayLabels.forEach(([t, p, s]: any) => text(ctx, s, X(t), Y(p), `bold 15px ${FONT}`, "#8a8a8a", "center"));

    // order texts
    orderTexts.forEach(([t, p, s]: any) => text(ctx, s, X(t), Y(p), `13px ${FONT}`, "#111", "center"));
    stopArrows.forEach(([t, p0, p1]) => {
      const x = X(t), y0 = Y(p0), y1 = Y(p1);
      ctx.strokeStyle = "#000";
      ctx.lineWidth = 2;
      ctx.beginPath();
      ctx.moveTo(x, y0);
      ctx.lineTo(x, y1 - 4);
      ctx.stroke();
      ctx.fillStyle = "#000";
      ctx.beginPath();
      ctx.moveTo(x - 4, y1 - 5);
      ctx.lineTo(x + 4, y1 - 5);
      ctx.lineTo(x, y1 + 1);
      ctx.closePath();
      ctx.fill();
    });

    // teal arrow
    {
      const [[t0, p0], [t1, p1]] = noteArrow;
      const x0 = X(t0), y0 = Y(p0), x1 = X(t1), y1 = Y(p1);
      ctx.strokeStyle = "#1e8587";
      ctx.lineWidth = 3;
      ctx.beginPath();
      ctx.moveTo(x0, y0);
      ctx.lineTo(x1 - 12, y1);
      ctx.stroke();
      ctx.fillStyle = "#1e8587";
      ctx.beginPath();
      ctx.moveTo(x1 - 14, y1 - 7);
      ctx.lineTo(x1, y1);
      ctx.lineTo(x1 - 14, y1 + 7);
      ctx.closePath();
      ctx.fill();
    }

    // note box
    {
      const l = X(noteBox.t0), r = X(noteBox.t1), t = Y(noteBox.p1), b = Y(noteBox.p0);
      ctx.fillStyle = "#fff";
      ctx.fillRect(l, t, r - l, b - t);
      ctx.strokeStyle = "#10108a";
      ctx.lineWidth = 1;
      ctx.strokeRect(l + 0.5, t + 0.5, r - l, b - t);
      noteLines.forEach((s, i) => text(ctx, s, (l + r) / 2, t + 9 + i * 15.3, `13px ${FONT}`, "#111", "center"));
    }

    // info box
    {
      const l = X(infoBox.t0), r = X(infoBox.t1), t = Y(infoBox.p1), b = Y(infoBox.p0);
      ctx.fillStyle = "rgba(255,255,255,0.85)";
      ctx.fillRect(l, t, r - l, b - t);
      ctx.strokeStyle = "#777";
      ctx.setLineDash([2, 2]);
      ctx.strokeRect(l + 0.5, t + 0.5, r - l, b - t);
      ctx.setLineDash([]);
      infoLabels.forEach((s, i) => {
        text(ctx, s, l + 2, t + 9 + i * 15.5, `13px ${FONT}`, "#111");
        if (infoValues[i]) text(ctx, infoValues[i], l + 55, t + 9 + i * 15.5, `13px ${FONT}`, "#111");
      });
    }

    // connection banner
    {
      ctx.font = `20px ${FONT}`;
      const w = ctx.measureText(BANNER).width;
      const size = (20 * 916) / w;
      ctx.font = `${size}px ${FONT}`;
      ctx.fillStyle = "#000";
      ctx.textAlign = "right";
      ctx.textBaseline = "alphabetic";
      ctx.fillText(BANNER, 912, a.bottom - 15);
    }
    ctx.restore();
  },
  afterDraw(chart: any) {
    const { ctx, chartArea: a, scales } = chart;
    const Y = (p: number) => scales.y.getPixelForValue(p);
    const lastClose = closes[closes.length - 1];
    const lastSlow = maSlow[maSlow.length - 1][1];
    const lastLong = maLong[maLong.length - 1][1];
    drawTag(ctx, a.right, Y(lastClose) - 2, lastClose.toFixed(2), "#000", "#fff");
    drawTag(ctx, a.right, Y(lastSlow), lastSlow.toFixed(2), "#b8862b", "#000");
    drawTag(ctx, a.right, Y(lastLong), lastLong.toFixed(2), "#3a96f0", "#fff");
  },
};

function makeMainConfig() {
  const wicks = barTimes.map((t, i) => ({ x: t, y: [lows[i], highs[i]] }));
  const bodies = barTimes.map((t, i) => {
    const o = opens[i], c = closes[i];
    return { x: t, y: o === c ? [o - 0.03, o + 0.03] : [o, c] };
  });
  const bodyColors = opens.map((o, i) => (closes[i] > o ? "#96d896" : closes[i] < o ? "#6f6f6f" : "#000"));

  const ds: any[] = [];
  // levels (background)
  ds.push(hLine(lineNavyTop[0], lineNavyTop[1], lineNavyTop[2], "#1414b4", 2));
  dashDotLevels.forEach(([p, t0, t1]) => ds.push(hLine(p, t0, t1, "#1a1ad2", 2, [9, 3, 2, 3])));
  blueSolidLevels.forEach(([p, t0, t1]) => ds.push(hLine(p, t0, t1, "#1a1ad2", 2)));
  orangeLevels.forEach(([p, t0, t1]) => ds.push(hLine(p, t0, t1, "#f4a11c", 3)));
  ds.push(hLine(thinNavyLevel[0], thinNavyLevel[1], thinNavyLevel[2], "#000080", 1));
  ds.push(hLine(yellowLevel[0], yellowLevel[1], yellowLevel[2], "#eee070", 2));
  const pivotWidths = [1, 2, 1, 3, 2, 1, 4, 3, 1, 2];
  const pivotLineColors = ["#8a8a8a", "#35b5f0", "#8a8a8a", "#107010", "#35b5f0", "#8a8a8a", "#35c3f5", "#0a14d8", "#8a8a8a", "#111"];
  pivotValues.forEach((p, i) => {
    const t0 = i === 7 ? X_MIN : 391.5;
    const t1 = i === 7 ? X_MAX : i === 3 || i === 6 ? 792 : 793.4;
    ds.push(hLine(p, t0, t1, pivotLineColors[i], pivotWidths[i], [], 25));
  });
  // fib short lines
  fibPercents.forEach((pc) => {
    if (pc === 61.8 || pc === 161.8) return;
    const price = FIB_HIGH - (pc / 100) * (FIB_HIGH - FIB_LOW);
    const heavy = pc === 0 || pc === 100 || pc === 200;
    const solid = heavy || pc === 38.2 || pc === 50;
    ds.push(hLine(price, 769.5, 796.4, fibLineColor(pc), heavy ? 3 : pc === 50 ? 2 : 1, solid ? [] : [1, 2], 24));
  });
  // diagonals and wave path
  diagonals.forEach((d) => ds.push(lineDs(d, "#7a7a7a", 1, [3, 3], 22)));
  ds.push(lineDs(wavePath, "#efb0b0", 1, [], 23));

  // candles
  ds.push({ type: "bar", data: wicks, backgroundColor: "#000", maxBarThickness: 1, grouped: false, order: 12 });
  ds.push({
    type: "bar",
    data: bodies,
    backgroundColor: bodyColors,
    borderColor: "#000",
    borderWidth: 1,
    borderSkipped: false,
    maxBarThickness: 3.6,
    grouped: false,
    order: 11,
  });

  // moving averages
  ds.push(lineDs(maLong, "#3a8ee6", 2, [], 6, smooth));
  ds.push(lineDs(maSlow, "#b98a2e", 3, [], 5, smooth));
  ds.push(lineDs(maMid, "#34d534", 2, [], 4, smooth));
  ds.push(lineDs(maFast, "#111", 2, [], 3, smooth));
  ds.push(lineDs(maGraySeg, "#999", 2, [], 3));
  ds.push(lineDs(maFlatSeg, "#111", 3, [], 3));
  ds.push(lineDs(maFlatSeg, "#34d534", 2, [6, 8], 2));

  // trend marks
  trendMarks.forEach((m) => ds.push(lineDs(m, "#1010c8", 2, [], 1)));

  return {
    type: "bar",
    data: { datasets: ds },
    options: {
      ...baseOptions,
      scales: {
        x: xHidden,
        y: {
          position: "right",
          min: Y_MIN,
          max: Y_MAX,
          afterBuildTicks: (s: any) => {
            s.ticks = priceTicks.map((v) => ({ value: v }));
          },
          afterFit: (s: any) => {
            s.width = AXIS_W;
            s.paddingTop = 0;
            s.paddingBottom = 0;
          },
          ticks: {
            callback: (v: any) => Number(v).toFixed(2),
            color: "#000",
            font: { family: FONT, size: 13 },
            padding: 1,
            autoSkip: false,
          },
          grid: { color: "#e2e2e2", tickColor: "#000", tickLength: 5, lineWidth: 1 },
          border: { display: true, color: "#000", width: 1 },
        },
      },
    },
    plugins: [mainPlugin],
  };
}

// ================= VOLUME PANEL =================
const VOL_MIN = -2730;
const VOL_MAX = 15990;
function makeVolumeConfig() {
  return {
    type: "bar",
    data: {
      datasets: [
        {
          type: "bar",
          data: barTimes.map((t, i) => ({ x: t, y: volumes[i] })),
          backgroundColor: "#1414f0",
          maxBarThickness: 2,
          grouped: false,
          order: 1,
        },
        hLine(0, X_MIN, X_MAX, "#9a9a9a", 1, [], 5),
      ],
    },
    options: { ...baseOptions, scales: { x: xHidden, y: rightAxis(VOL_MIN, VOL_MAX) } },
    plugins: [
      {
        id: "volTag",
        afterDraw(chart: any) {
          const v = volumes[volumes.length - 1];
          drawTag(chart.ctx, chart.chartArea.right, chart.scales.y.getPixelForValue(v), String(v), "#0a0af0", "#fff");
        },
      },
    ],
  };
}

// ================= STOCHASTICS PANEL =================
function makeStochConfig() {
  const levelColors = ["#8a8a8a", "#8a8a8a", "#2a7a2a", "#2a7a2a", "#d0d0d0"];
  const ds: any[] = stochLevels.map((v, i) => hLine(v, X_MIN, X_MAX, levelColors[i], 1, [], 20));
  ds.push(
    lineDs(stochD, "#8c8c8c", 2.5, [], 5, {
      ...smooth,
      segment: { borderColor: (c: any) => (c.p1.parsed.y >= c.p0.parsed.y ? "#1f8f1f" : "#8c8c8c") },
    })
  );
  ds.push(lineDs(stochK, "#000", 1, [], 4));
  stochMarks.forEach((m) => ds.push(lineDs(m, "#1a1ad8", 2, [], 1)));
  return {
    type: "line",
    data: { datasets: ds },
    options: {
      ...baseOptions,
      scales: {
        x: xHidden,
        y: rightAxis(-12, 104, {
          afterBuildTicks: (s: any) => {
            s.ticks = [{ value: 0 }];
          },
          ticks: { display: true, color: "#000", font: { family: FONT, size: 13 }, padding: 1 },
          grid: { display: true, drawOnChartArea: false, tickColor: "#000", tickLength: 5 },
        }),
      },
    },
    plugins: [
      {
        id: "stochTags",
        afterDraw(chart: any) {
          const { ctx, chartArea: a, scales } = chart;
          const y = scales.y.getPixelForValue(stochTagValues[0]);
          drawTag(ctx, a.right + 17, y + 5, String(stochTagValues[1]), "#1e7a1e", "#fff");
          drawTag(ctx, a.right, y, String(stochTagValues[0]), "#000", "#fff");
        },
      },
    ],
  };
}

// ================= MACD PANEL =================
function makeMacdConfig() {
  const histColors = macdHist.map((v, i) => (i === 0 || v >= macdHist[i - 1] ? "#137313" : "#8e8e8e"));
  return {
    type: "bar",
    data: {
      datasets: [
        {
          type: "bar",
          data: barTimes.map((t, i) => ({ x: t, y: macdHist[i] })),
          backgroundColor: histColors,
          maxBarThickness: 1.5,
          grouped: false,
          order: 6,
        },
        hLine(0, X_MIN, X_MAX, "#000", 1, [], 10),
        lineDs(macdLine, "#8c8c8c", 3, [], 2, {
          ...smooth,
          segment: { borderColor: (c: any) => (c.p1.parsed.y >= c.p0.parsed.y ? "#33e033" : "#8c8c8c") },
        }),
      ],
    },
    options: {
      ...baseOptions,
      scales: {
        x: xHidden,
        y: rightAxis(-3.18, 6.82, {
          afterBuildTicks: (s: any) => {
            s.ticks = [{ value: 5 }];
          },
          ticks: { display: true, color: "#000", font: { family: FONT, size: 13 }, padding: 1 },
          grid: { display: true, drawOnChartArea: false, tickColor: "#000", tickLength: 5 },
        }),
      },
    },
    plugins: [
      {
        id: "macdText",
        afterDatasetsDraw(chart: any) {
          const { ctx, scales } = chart;
          ctx.save();
          macdCountsBlue.forEach(([t, v, s]: any) =>
            text(ctx, s, scales.x.getPixelForValue(t), scales.y.getPixelForValue(v), `bold 13px ${FONT}`, "#1515c0", "center")
          );
          macdCountsGray.forEach(([t, v, s]: any) =>
            text(ctx, s, scales.x.getPixelForValue(t), scales.y.getPixelForValue(v), `bold 13px ${FONT}`, "#8a8a8a", "center")
          );
          ctx.restore();
        },
        afterDraw(chart: any) {
          const { ctx, chartArea: a, scales } = chart;
          drawTag(ctx, a.right, scales.y.getPixelForValue(macdTags[0]) - 8, macdTags[0].toFixed(3), "#8c8c8c", "#222");
          drawTag(ctx, a.right, scales.y.getPixelForValue(macdTags[1]), macdTags[1].toFixed(3), "#8c8c8c", "#222");
        },
      },
    ],
  };
}

// ================= BUY/SELL PRESSURE PANEL + TIME AXIS =================
function makePressureConfig() {
  return {
    type: "line",
    data: {
      datasets: [
        hLine(30, X_MIN, X_MAX, "#000", 1, [], 10),
        hLine(70, X_MIN, X_MAX, "#000", 1, [], 10),
        lineDs(barTimes.map((t, i) => [t, buyPressure[i]]), "#1b8a1b", 1, [], 3),
        lineDs(barTimes.map((t, i) => [t, sellPressure[i]]), "#ff1010", 1, [], 2),
      ],
    },
    options: {
      ...baseOptions,
      scales: {
        x: {
          type: "linear",
          min: X_MIN,
          max: X_MAX,
          position: "bottom",
          offset: false,
          afterBuildTicks: (s: any) => {
            s.ticks = timeTicks.map((v) => ({ value: v }));
          },
          afterFit: (s: any) => {
            s.height = 56;
            s.paddingLeft = 0;
            s.paddingRight = 0;
          },
          ticks: {
            callback: (v: any) => fmtTime(Number(v)),
            color: "#000",
            font: { family: FONT, size: 12 },
            autoSkip: false,
            maxRotation: 0,
            padding: 3,
          },
          grid: { drawOnChartArea: false, tickColor: "#000", tickLength: 5 },
          border: { display: true, color: "#000", width: 1 },
        },
        y: rightAxis(8, 104),
      },
    },
    plugins: [
      {
        id: "pressureDecor",
        afterDatasetsDraw(chart: any) {
          const { ctx, chartArea: a } = chart;
          ctx.save();
          ctx.fillStyle = "#111";
          ctx.textAlign = "left";
          ctx.textBaseline = "alphabetic";
          ctx.font = `14px ${FONT}`;
          ctx.fillText("BuySellPressure(ES 06-15 (2 Min))", a.left + 1, a.top + 24);
          ctx.font = `11px ${FONT}`;
          ctx.fillText("\u00a9 2015 NinjaTrader, LLC", a.left, a.top + 30);
          ctx.restore();
        },
        afterDraw(chart: any) {
          const { ctx, chartArea: a, scales } = chart;
          const b = buyPressure[buyPressure.length - 1];
          const s = sellPressure[sellPressure.length - 1];
          drawTag(ctx, a.right, scales.y.getPixelForValue(s) - 10, b.toFixed(1), "#1e7a1e", "#fff");
          drawTag(ctx, a.right, scales.y.getPixelForValue(s), s.toFixed(1), "#ff1a1a", "#fff");
        },
      },
    ],
  };
}

// ================= COMPONENTS =================
function ChartCanvas({ top, height, make }: { top: number; height: number; make: () => any }) {
  const ref = useRef<HTMLCanvasElement | null>(null);
  useEffect(() => {
    if (!ref.current) return;
    const chart = new Chart(ref.current, make());
    return () => chart.destroy();
  }, [make]);
  return (
    <canvas
      ref={ref}
      width={1005}
      height={height}
      style={{ position: "absolute", left: 0, top, width: 1005, height, display: "block" }}
    />
  );
}

const hr = (top: number, width = 1004, h = 1) => (
  <div key={`h${top}`} style={{ position: "absolute", left: 0, top, width, height: h, background: "#000" }} />
);

export default function App() {
  return (
    <div
      style={{
        position: "absolute",
        left: 0,
        top: 0,
        width: 1005,
        height: 983,
        background: "#fff",
        overflow: "hidden",
        fontFamily: FONT,
      }}
    >
      <div
        style={{
          position: "absolute",
          left: 0,
          top: 4,
          width: 1002,
          textAlign: "center",
          fontSize: 14,
          lineHeight: "16px",
          whiteSpace: "pre",
          color: "#111",
        }}
      >
        {TITLE}
      </div>
      <ChartCanvas top={27} height={690} make={makeMainConfig} />
      <ChartCanvas top={717} height={48} make={makeVolumeConfig} />
      <ChartCanvas top={765} height={65} make={makeStochConfig} />
      <ChartCanvas top={830} height={66} make={makeMacdConfig} />
      <ChartCanvas top={896} height={87} make={makePressureConfig} />
      {hr(26, 1004, 2)}
      {hr(717)}
      {hr(765)}
      {hr(830)}
      {hr(896)}
      {hr(982)}
      <div style={{ position: "absolute", left: 0, top: 26, width: 2, height: 957, background: "#000" }} />
      <div style={{ position: "absolute", left: 1003, top: 26, width: 1, height: 957, background: "#000" }} />
    </div>
  );
}
